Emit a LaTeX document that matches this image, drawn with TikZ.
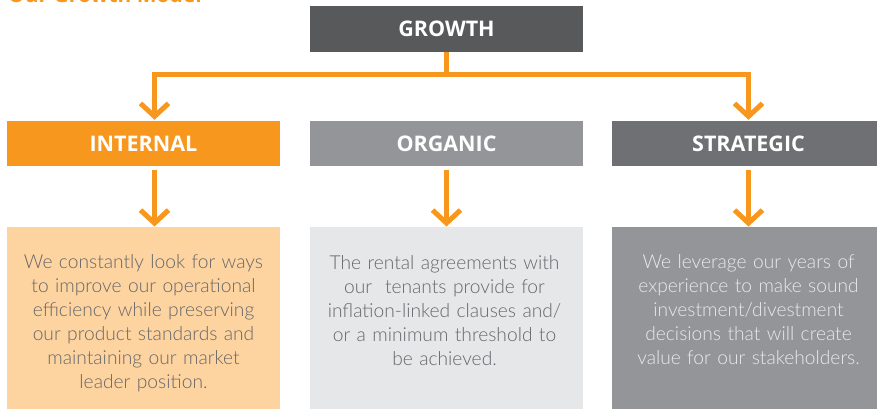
\documentclass[tikz,border=0pt]{standalone}
\usepackage{fontspec}
\setmainfont{Lato}
\newfontfamily\bodyfont{Lato Light}
\newfontfamily\headfont{Open Sans}
\usetikzlibrary{arrows.meta}

\definecolor{orangeC}{HTML}{F7971E}
\definecolor{growthC}{HTML}{58595B}
\definecolor{organicC}{HTML}{939598}
\definecolor{strategicC}{HTML}{6F7073}
\definecolor{internalD}{HTML}{FDD3A0}
\definecolor{organicD}{HTML}{E6E7E8}
\definecolor{strategicD}{HTML}{939598}
\definecolor{textC}{HTML}{66676A}
\definecolor{lightText}{HTML}{E9EAEB}

\begin{document}
\begin{tikzpicture}[x=1pt,y=1pt,
  headbox/.style={rectangle, inner sep=0pt, minimum width=273pt, minimum height=45pt,
    text=white, font=\headfont\fontsize{21.5}{24}\selectfont\bfseries},
  descbox/.style={rectangle, inner sep=0pt, minimum width=273pt, minimum height=186pt,
    anchor=north},
  desctext/.style={anchor=base, align=center, inner sep=0pt, text width=272pt,
    font=\bodyfont\fontsize{19.2}{24}\selectfont},
  conn/.style={draw=orangeC, line width=5pt, line join=miter},
  tip/.style={-{Straight Barb[length=13pt,width=28pt]}}
]
\useasboundingbox (0,0) rectangle (877,408);

% heading
\node[anchor=base west, inner sep=0pt, text=orangeC,
  font=\headfont\fontsize{21}{24}\selectfont\bfseries] (title) at (8,405) {Our Growth Model};

% top box and the three growth routes
\node[headbox, fill=growthC, minimum height=46pt] (growth) at (446.5,379) {GROWTH};
\node[headbox, fill=orangeC] (internal) at (143.5,264.5) {INTERNAL};
\node[headbox, fill=organicC] (organic) at (446.5,264.5) {ORGANIC};
\node[headbox, fill=strategicC] (strategic) at (748.5,264.5) {STRATEGIC};

% description panels
\node[descbox, fill=internalD] (dint) at (143.5,181) {};
\node[descbox, fill=organicD] (dorg) at (446.5,181) {};
\node[descbox, fill=strategicD] (dstr) at (748.5,181) {};

\node[desctext, text=textC] (tint) at (143.5,140) {We constantly look for ways\\
  to improve our operational\\ efficiency while preserving\\
  our product standards and\\ maintaining our market\\ leader position.};
\node[desctext, text=textC] (torg) at (444.5,138.5) {The rental agreements with\\
  our~ tenants provide for\\ inflation-linked clauses and/\\
  or a minimum threshold to\\ be achieved.};
\node[desctext, text=lightText] (tstr) at (748.5,140) {We leverage our years of\\
  experience to make sound\\ investment/divestment\\
  decisions that will create\\ value for our stakeholders.};

% connectors
\coordinate (bus) at (0,334);
\coordinate (inX) at (154.5,0);
\coordinate (stX) at (748.5,0);

\draw[conn] (growth.south) -- (growth.south |- bus);
\draw[conn,tip] (growth.south |- bus) -| ([yshift=1pt]internal.north -| inX);
\draw[conn,tip] (growth.south |- bus) -| ([yshift=1pt]strategic.north -| stX);

\draw[conn,tip] ([yshift=-4pt]internal.south -| inX) -- ([yshift=0.5pt]dint.north -| inX);
\draw[conn,tip] ([yshift=-4pt]organic.south) -- ([yshift=0.5pt]dorg.north);
\draw[conn,tip] ([yshift=-4pt]strategic.south -| stX) -- ([yshift=0.5pt]dstr.north -| stX);
\end{tikzpicture}
\end{document}
